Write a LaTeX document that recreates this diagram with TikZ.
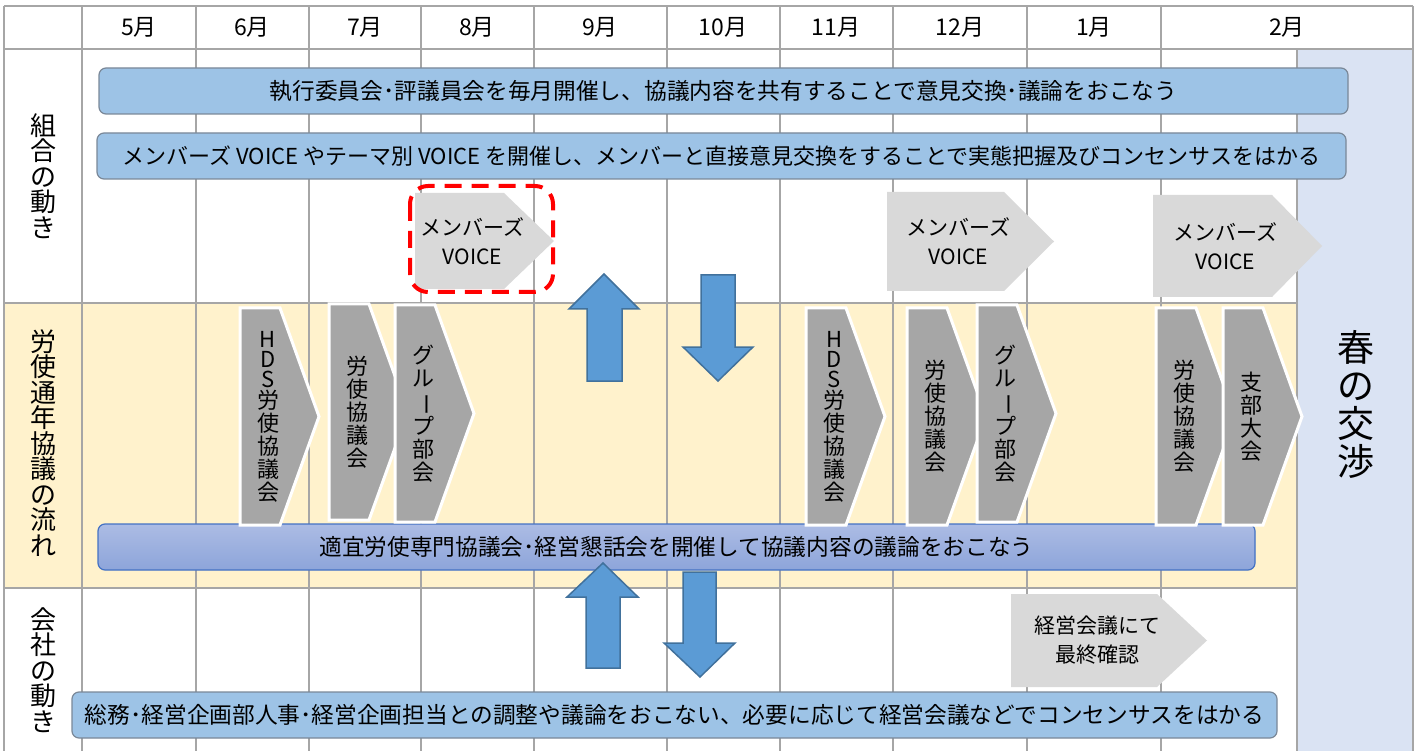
\documentclass[tikz,border=0pt]{standalone}
\usepackage{fontspec}
\setmainfont{Noto Sans CJK JP}
\definecolor{gridgray}{RGB}{166,166,166}
\definecolor{rowyellow}{RGB}{255,242,204}
\definecolor{springblue}{RGB}{218,227,243}
\definecolor{barblue}{RGB}{157,195,230}
\definecolor{barline}{RGB}{122,136,152}
\definecolor{rositop}{RGB}{172,188,228}
\definecolor{rosibot}{RGB}{141,165,218}
\definecolor{rosiline}{RGB}{68,114,196}
\definecolor{plategray}{RGB}{217,217,217}
\definecolor{chevgray}{RGB}{166,166,166}
\definecolor{arrowblue}{RGB}{91,155,213}
\definecolor{arrowline}{RGB}{65,113,156}
\begin{document}
\begin{tikzpicture}[x=1pt,y=-1pt,
    grid/.style={gridgray,line width=1.5pt},
    bar/.style={draw=barline,fill=barblue,line width=1.2pt,rounded corners=7pt,
      inner sep=0pt,font=\fontsize{22.7}{28}\selectfont},
    blockarrow/.style={fill=arrowblue,draw=arrowline,line width=1.5pt,line join=miter},
    plate/.style={fill=plategray},
    platetext/.style={align=center,inner sep=0pt,font=\fontsize{21}{29}\selectfont},
    chevron/.style={fill=chevgray,draw=white,line width=3pt,line join=miter},
    tate/.style={align=center,inner sep=0pt,font=\fontsize{22}{23}\selectfont},
    rowhead/.style={align=center,inner sep=0pt,font=\fontsize{26}{25.5}\selectfont},
    month/.style={inner sep=0pt,font=\fontsize{23}{26}\selectfont}]
\useasboundingbox (0,0) rectangle (1416,751);

% backgrounds
\fill[rowyellow] (4,303) rectangle (1297,588);
\fill[springblue] (1297,49) rectangle (1413,751);

% table lines
\foreach \x in {4,82,196,309,421,534,667,780,893,1027,1161,1413}
  \draw[grid] (\x,6) -- (\x,751);
\draw[grid] (1297,49) -- (1297,751);
\draw[grid] (4,6) -- (1413,6);
\draw[grid] (4,49) -- (1413,49);
\draw[grid] (4,303) -- (1297,303);
\draw[grid] (4,588) -- (1297,588);

% months
\foreach \m/\x in {5/139,6/252,7/365,8/477,9/600,10/723,11/836,12/960,1/1094,2/1287}
  \node[month] (mon\m) at (\x,27) {\m{}月};

% row heads
\node[rowhead] (kumiai) at (43,176) {組\\合\\の\\動\\き};
\node[rowhead] (rosiflow) at (43,443) {労\\使\\通\\年\\協\\議\\の\\流\\れ};
\node[rowhead] (kaisha) at (43,670) {会\\社\\の\\動\\き};

% bars
\node[bar,minimum width=1249pt,minimum height=46pt] (iinkai) at (723.5,91)
  {執行委員会･評議員会を毎月開催し、協議内容を共有することで意見交換･議論をおこなう};
\node[bar,minimum width=1249pt,minimum height=46pt,font=\fontsize{22}{28}\selectfont] (voicebar) at (721.5,156)
  {メンバーズ VOICE やテーマ別 VOICE を開催し、メンバーと直接意見交換をすることで実態把握及びコンセンサスをはかる};
\node[bar,draw=rosiline,top color=rositop,bottom color=rosibot,minimum width=1157pt,minimum height=46pt] (rosibar) at (676.5,547)
  {適宜労使専門協議会･経営懇話会を開催して協議内容の議論をおこなう};
\node[bar,minimum width=1205pt,minimum height=46pt] (kaishabar) at (674.5,715)
  {総務･経営企画部人事･経営企画担当との調整や議論をおこない、必要に応じて経営会議などでコンセンサスをはかる};

% up / down arrows
\draw[blockarrow] (604,274) -- (639,309) -- (622,309) -- (622,381) -- (587,381) -- (587,309) -- (569,309) -- cycle;
\draw[blockarrow] (701,275) -- (735,275) -- (735,347) -- (753,347) -- (718,381) -- (683,347) -- (701,347) -- cycle;
\draw[blockarrow] (603,563) -- (638,597) -- (620,597) -- (620,668) -- (586,668) -- (586,597) -- (567,597) -- cycle;
\draw[blockarrow] (683,572) -- (716,572) -- (716,643) -- (735,643) -- (700,677) -- (664,643) -- (683,643) -- cycle;

% home plates
\foreach \l/\r/\t/\b/\nm/\txt in {415/554/193/289/voiceaug/{メンバーズ\\VOICE},
    887/1054/192/291/voicedec/{メンバーズ\\VOICE},
    1153/1322/195/297/voicefeb/{メンバーズ\\VOICE},
    1011/1207/594/687/saishu/{経営会議にて\\最終確認}}
{
  \fill[plate] (\l,\t) -- ({\r-50},\t) -- (\r,{(\t+\b)/2}) -- ({\r-50},\b) -- (\l,\b) -- cycle;
  \node[platetext] (\nm) at ({(\l+\r)/2-12},{(\t+\b)/2}) {\txt};
}
\draw[red,line width=4pt,dash pattern=on 17pt off 10pt,rounded corners=18pt] (410,186) rectangle (553,292);

% chevrons
\foreach \l/\t/\b/\txt [count=\i] in {
    240/308/525/{H\\[-3pt]D\\[-3pt]S\\[-2pt]労\\使\\協\\議\\会},
    329/304/520/{労\\使\\協\\議\\会},
    395/305/522/{グ\\ル\\\rotatebox[origin=c]{-90}{ー}\\プ\\部\\会},
    806/308/525/{H\\[-3pt]D\\[-3pt]S\\[-2pt]労\\使\\協\\議\\会},
    907/308/525/{労\\使\\協\\議\\会},
    977/305/522/{グ\\ル\\\rotatebox[origin=c]{-90}{ー}\\プ\\部\\会},
    1156/308/525/{労\\使\\協\\議\\会},
    1223/308/525/{支\\部\\大\\会}}
{
  \draw[chevron] (\l,\t) -- ({\l+40},\t) -- ({\l+79},{(\t+\b)/2}) -- ({\l+40},\b) -- (\l,\b) -- cycle;
  \node[tate] (kyogi\i) at ({\l+28},{(\t+\b)/2}) {\txt};
}

% spring
\node[align=center,inner sep=0pt,font=\fontsize{37}{38}\selectfont] (haru) at (1356,404) {春\\の\\交\\渉};
\end{tikzpicture}
\end{document}
